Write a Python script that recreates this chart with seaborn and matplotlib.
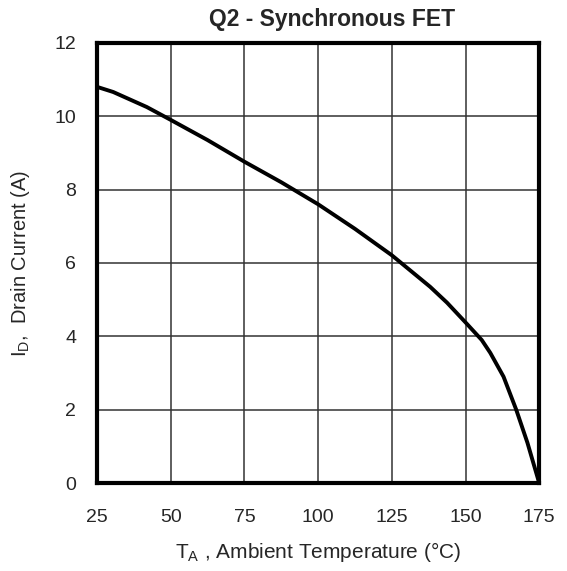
import matplotlib
matplotlib.use("Agg")
import matplotlib.pyplot as plt
import seaborn as sns
import pandas as pd

# derating curve
temp_c = [25, 30.5, 41.9, 50, 62.5, 75, 87.5, 100, 112.5, 125, 138,
          143.7, 150, 155.5, 158.4, 162.9, 167.2, 171, 175]
drain_a = [10.8, 10.66, 10.25, 9.9, 9.35, 8.76, 8.2, 7.6, 6.93, 6.21, 5.35,
           4.92, 4.38, 3.9, 3.55, 2.9, 2.0, 1.1, 0.0]

x_ticks = [25, 50, 75, 100, 125, 150, 175]
y_ticks = [0, 2, 4, 6, 8, 10, 12]

sns.set_style("white")
plt.rcParams['font.family'] = ['Liberation Sans', 'DejaVu Sans']
plt.rcParams['mathtext.fontset'] = 'custom'
plt.rcParams['mathtext.rm'] = 'Liberation Sans'

df = pd.DataFrame({'T': temp_c, 'I': drain_a})

fig = plt.figure(figsize=(5.67, 5.71), dpi=100)
ax = fig.add_axes([0.171, 0.154, 0.780, 0.771])

sns.lineplot(data=df, x='T', y='I', color='black', lw=2.8, ax=ax, zorder=3)

ax.set_xlim(25, 175)
ax.set_ylim(0, 12)
ax.set_xticks(x_ticks)
ax.set_yticks(y_ticks)
ax.grid(True, color='#333333', lw=1.1)
for s in ax.spines.values():
    s.set_color('black')
    s.set_linewidth(3)
ax.tick_params(axis='both', labelsize=14, length=0)
ax.tick_params(axis='x', pad=19)
ax.tick_params(axis='y', pad=15)

ax.set_title("Q2 - Synchronous FET", fontsize=16.5, fontweight='bold', pad=12, x=0.532)
ax.set_xlabel(r"T$_\mathregular{A}$ , Ambient Temperature (°C)", fontsize=15, labelpad=10)
ax.set_ylabel(r"I$_\mathregular{D}$,  Drain Current (A)", fontsize=14.5, labelpad=16)

fig.savefig('out.png', dpi=100)
